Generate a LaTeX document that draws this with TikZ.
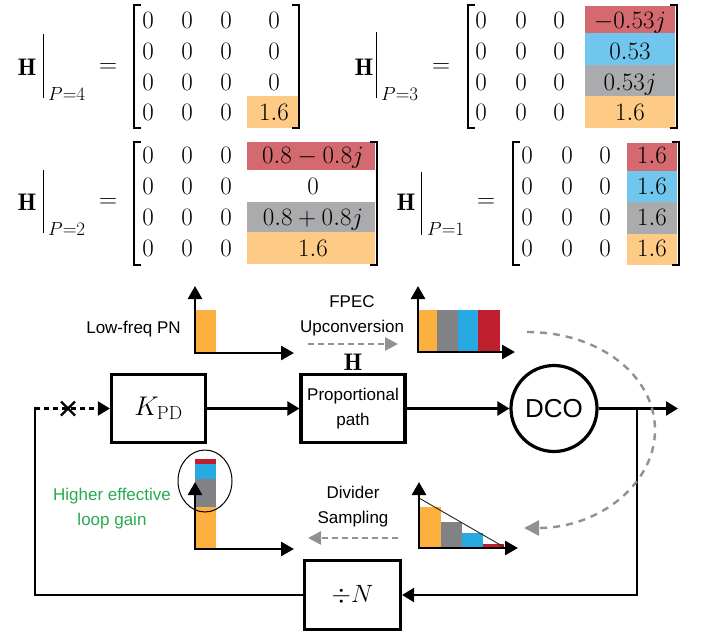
\RequirePackage{fix-cm}
\documentclass[tikz,border=0pt]{standalone}
\usepackage{amsmath}
\usepackage{fontspec}
\newfontfamily\arialf{Liberation Sans}
\usetikzlibrary{arrows.meta}
\definecolor{bor}{RGB}{251,176,64}
\definecolor{bgr}{RGB}{128,130,133}
\definecolor{bbl}{RGB}{39,170,225}
\definecolor{bre}{RGB}{190,30,45}
\definecolor{mor}{RGB}{253,203,133}
\definecolor{mgr}{RGB}{170,171,173}
\definecolor{mbl}{RGB}{112,198,236}
\definecolor{mre}{RGB}{212,106,112}
\definecolor{dgray}{RGB}{145,145,145}
\definecolor{lgreen}{RGB}{40,170,80}
\begin{document}
\begin{tikzpicture}[x=1pt,y=-1pt,
  ent/.style={font=\fontsize{25}{30}\selectfont, inner sep=0pt, anchor=base},
  hlab/.style={font=\fontsize{24}{28}\selectfont, inner sep=0pt},
  eqs/.style={font=\fontsize{25}{30}\selectfont, inner sep=0pt},
  evsub/.style={font=\fontsize{19}{22}\selectfont, inner sep=0pt, anchor=base west},
  brk/.style={line width=2pt},
  evbar/.style={line width=1pt},
  blk/.style={draw, line width=3.2pt, inner sep=0pt},
  sans/.style={font=\arialf\fontsize{17}{25}\selectfont, inner sep=0pt},
  wire/.style={line width=2.4pt},
  conn/.style={line width=2.4pt, -{Triangle[length=12pt,width=14pt]}},
  axes2/.style={line width=2.6pt, {Triangle[length=13pt,width=14pt]}-{Triangle[length=13pt,width=14pt]}},
  garrow/.style={draw=dgray, line width=2.4pt, dash pattern=on 6pt off 4pt, -{Triangle[length=13pt,width=13pt,fill=dgray]}},
  garrowc/.style={draw=dgray, line width=2.4pt, dash pattern=on 7pt off 6pt, -{Triangle[length=15pt,width=15pt,fill=dgray]}}
]
\useasboundingbox (0,0) rectangle (702,635);

%================ Matrix P=4 =================
\fill[mor] (247,96) rectangle (298,128);
\foreach \x in {148,187,226} \foreach \y in {28,59,90,120} \node[ent] (pa\x\y) at (\x,\y) {$0$};
\node[ent] (pa41) at (274,28) {$0$};
\node[ent] (pa42) at (274,59) {$0$};
\node[ent] (pa43) at (274,90) {$0$};
\node[ent] (pa44) at (274,120) {$1.6$};
\draw[brk] (141,5) -- (134,5) -- (134,128) -- (141,128);
\draw[brk] (292,5) -- (299,5) -- (299,128) -- (292,128);
\node[hlab] (ha) at (27,67) {$\mathbf{H}$};
\draw[evbar] (43,34) -- (43,98);
\node[evsub] (sa) at (48,100) {$P{=}4$};
\node[eqs] (ea) at (108,68) {$=$};

%================ Matrix P=3 =================
\fill[mre] (585,6) rectangle (675,33);
\fill[mbl] (585,33) rectangle (675,65);
\fill[mgr] (585,65) rectangle (675,96);
\fill[mor] (585,96) rectangle (675,128);
\foreach \x in {481,521,559} \foreach \y in {28,59,90,120} \node[ent] (pb\x\y) at (\x,\y) {$0$};
\node[ent] (pb41) at (630,28) {$-0.53j$};
\node[ent] (pb42) at (630,59) {$0.53$};
\node[ent] (pb43) at (630,90) {$0.53j$};
\node[ent] (pb44) at (630,120) {$1.6$};
\draw[brk] (475,5) -- (468,5) -- (468,128) -- (475,128);
\draw[brk] (670,5) -- (677,5) -- (677,128) -- (670,128);
\node[hlab] (hb) at (364,67) {$\mathbf{H}$};
\draw[evbar] (376,32) -- (376,98);
\node[evsub] (sb) at (381,100) {$P{=}3$};
\node[eqs] (eb) at (441,68) {$=$};

%================ Matrix P=2 =================
\fill[mre] (247,142) rectangle (375,170);
\fill[mgr] (247,202) rectangle (375,232);
\fill[mor] (247,232) rectangle (375,264);
\foreach \x in {148,187,226} \foreach \y in {163,194,225,256} \node[ent] (pc\x\y) at (\x,\y) {$0$};
\node[ent] (pc41) at (313,163) {$0.8-0.8j$};
\node[ent] (pc42) at (313,194) {$0$};
\node[ent] (pc43) at (313,225) {$0.8+0.8j$};
\node[ent] (pc44) at (313,256) {$1.6$};
\draw[brk] (141,142) -- (134,142) -- (134,265) -- (141,265);
\draw[brk] (370,142) -- (377,142) -- (377,265) -- (370,265);
\node[hlab] (hc) at (27,202) {$\mathbf{H}$};
\draw[evbar] (43,170) -- (43,233);
\node[evsub] (sc) at (48,235) {$P{=}2$};
\node[eqs] (ec) at (108,203) {$=$};

%================ Matrix P=1 =================
\fill[mre] (627,143) rectangle (677,171);
\fill[mbl] (627,171) rectangle (677,202);
\fill[mgr] (627,202) rectangle (677,234);
\fill[mor] (627,234) rectangle (677,265);
\foreach \x in {527,567,605} \foreach \y in {163,194,225,256} \node[ent] (pd\x\y) at (\x,\y) {$0$};
\foreach \y in {163,194,225,256} \node[ent] (pd4\y) at (652,\y) {$1.6$};
\draw[brk] (520,142) -- (513,142) -- (513,265) -- (520,265);
\draw[brk] (672,142) -- (679,142) -- (679,265) -- (672,265);
\node[hlab] (hd) at (406,202) {$\mathbf{H}$};
\draw[evbar] (421,172) -- (421,235);
\node[evsub] (sd) at (427,235) {$P{=}1$};
\node[eqs] (ed) at (486,203) {$=$};

%================ Block diagram =================
\node[blk, minimum width=94pt, minimum height=68pt, font=\fontsize{27}{30}\selectfont] (kpd) at (158.5,408.5) {$K_{\mathrm{PD}}$};
\node[blk, minimum width=104pt, minimum height=68pt, sans, align=center] (prop) at (353,408.5) {Proportional\\path};
\node[circle, draw, line width=3.2pt, minimum size=86pt, inner sep=0pt, font=\arialf\fontsize{26}{30}\selectfont] (dco) at (554,408.5) {DCO};
\node[blk, minimum width=96pt, minimum height=69pt, font=\fontsize{25}{30}\selectfont] (divn) at (352.5,595) {$\div N$};

\coordinate (out) at (678,408.5);
\coordinate (br) at (637,408.5);
\coordinate (lc) at (35,408.5);
\coordinate (xm) at (68,408.5);

\draw[conn] (kpd.east) -- (prop.west);
\draw[conn] (prop.east) -- (dco.west);
\draw[conn] (dco.east) -- (out);
\draw[conn] (br) |- (divn.east);
\draw[wire] (divn.west) -| ([yshift=1.2pt]lc);
\draw[line width=2.2pt, dash pattern=on 5pt off 4pt, -{Triangle[length=12pt,width=14pt]}] (lc) -- (kpd.west);
\draw[line width=2.4pt] (xm) ++(-7,-7) -- ++(14,14) (xm) ++(-7,7) -- ++(14,-14);

% Plot: low-freq PN
\fill[bor] (196,310) rectangle (216,353);
\coordinate (aO) at (195,353); \coordinate (aY) at (195,286); \coordinate (aX) at (294,353);
\draw[axes2] (aY) -- (aO) -- (aX);
\node[sans, anchor=base east] (lfpn) at (181,333) {Low-freq PN};

% FPEC upconversion
\node[sans, align=center] (fpec) at (352,316) {FPEC\\Upconversion};
\coordinate (fa) at (308,344); \coordinate (fb) at (398,344);
\draw[garrow] (fa) -- (fb);
\node[hlab] (hfp) at (353,362) {$\mathbf{H}$};

% Plot: upconverted
\fill[bor] (418,310) rectangle (437,352);
\fill[bgr] (437,310) rectangle (458,352);
\fill[bbl] (458,310) rectangle (478,352);
\fill[bre] (478,310) rectangle (500,352);
\coordinate (bO) at (418,352); \coordinate (bY) at (418,286); \coordinate (bX) at (515,352);
\draw[axes2] (bY) -- (bO) -- (bX);

% curved dashed arrow
\coordinate (ca) at (527,332); \coordinate (cb) at (524,528);
\draw[garrowc] (ca) .. controls (600,332) and (655,376) .. (655,430) .. controls (655,484) and (599,528) .. (cb);

% Plot: divider sampling
\fill[bor] (420,507) rectangle (441,548);
\fill[bgr] (441,522) rectangle (462,548);
\fill[bbl] (462,533) rectangle (483,548);
\fill[bre] (483,544) rectangle (504,548);
\draw[line width=0.9pt, draw=black!75!brown] (419,498) -- (504,547);
\coordinate (dO) at (419,548); \coordinate (dY) at (419,482); \coordinate (dX) at (518,548);
\draw[axes2] (dY) -- (dO) -- (dX);
\node[sans, align=center] (divs) at (353,507) {Divider\\Sampling};
\coordinate (da) at (398,538); \coordinate (db) at (308,538);
\draw[garrow] (da) -- (db);

% Plot: higher effective loop gain
\fill[bor] (195,507) rectangle (216,549);
\fill[bgr] (195,479) rectangle (216,507);
\fill[bbl] (195,464) rectangle (216,479);
\fill[bre] (195,459) rectangle (216,464);
\coordinate (eO) at (195,549); \coordinate (eY) at (195,482); \coordinate (eX) at (294,549);
\draw[axes2] (eY) -- (eO) -- (eX);
\draw[line width=1pt] (205,481) ellipse [x radius=27pt, y radius=31pt];
\node[sans, align=center, text=lgreen] (hel) at (112,509) {Higher effective\\loop gain};
\end{tikzpicture}
\end{document}
